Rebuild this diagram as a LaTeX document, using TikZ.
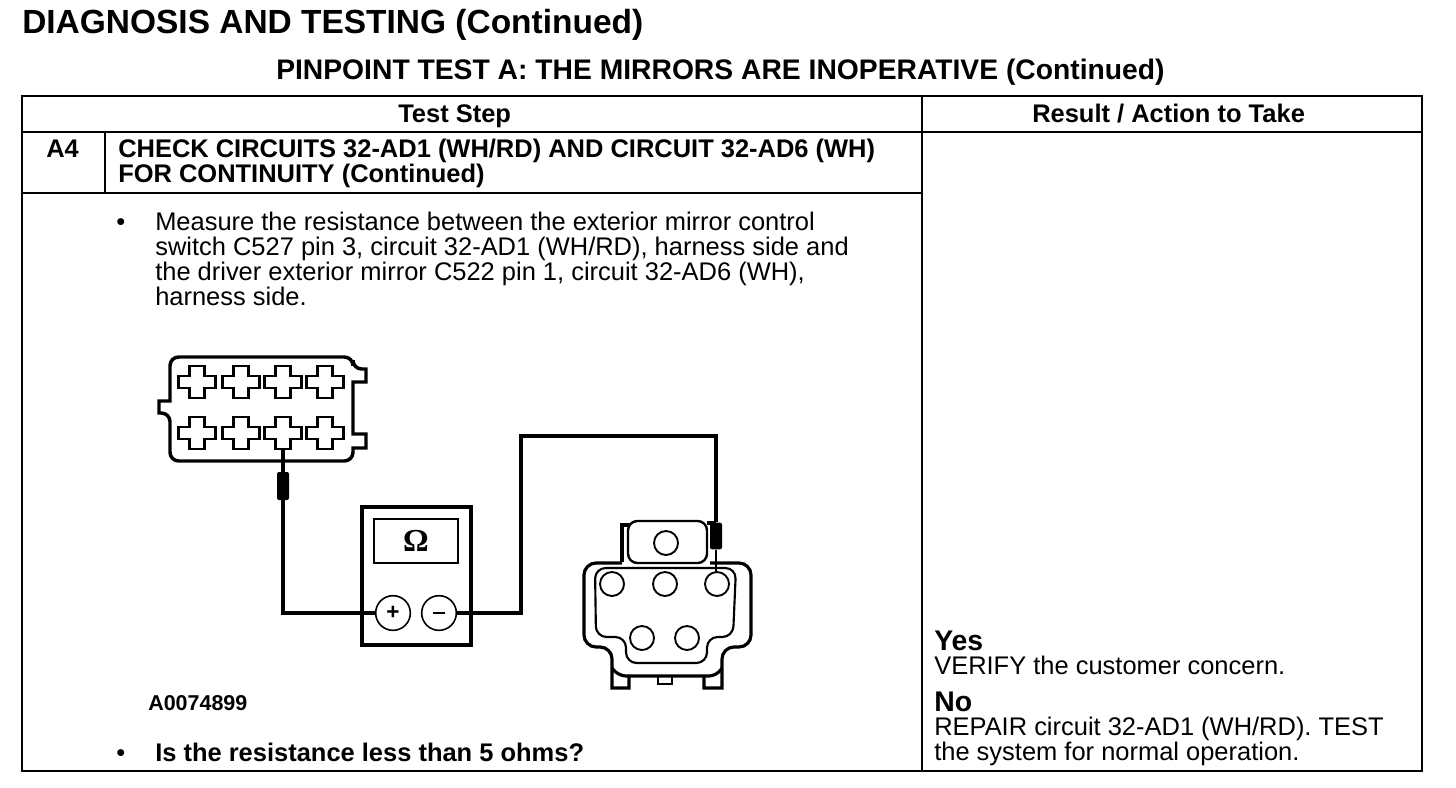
\documentclass[tikz,border=0pt]{standalone}
\usepackage{fontspec}
\setmainfont{Liberation Sans}
\newfontfamily\ohmfont{Liberation Serif}
\usetikzlibrary{positioning}
\usetikzlibrary{calc}
\tikzset{
  txt/.style={anchor=base west,inner sep=0pt,align=left},
  bodytxt/.style={txt,font=\fontsize{19.1}{18.75}\selectfont},
  headtxt/.style={txt,font=\fontsize{19.1}{18.75}\selectfont\bfseries},
  rule/.style={line width=1.5pt},
  pinhole/.style={circle,draw,line width=1.4pt,minimum size=18pt,inner sep=0pt},
  dial/.style={circle,draw,line width=1.2pt,fill=white,minimum size=26pt,inner sep=0pt},
  wire/.style={line width=2.6pt},
  probe/.style={rectangle,rounded corners=1.5pt,fill=black,inner sep=0pt,minimum width=9pt,minimum height=21pt},
  pics/crosshole/.style={code={
    \draw[line width=1.6pt] (-7.5,-16) -- (7.5,-16) -- (7.5,-6) -- (18.5,-6) -- (18.5,6) -- (7.5,6) -- (7.5,16) -- (-7.5,16) -- (-7.5,6) -- (-18.5,6) -- (-18.5,-6) -- (-7.5,-6) -- cycle;
  }}
}
\begin{document}
\begin{tikzpicture}[x=0.75pt,y=0.75pt,yscale=-1,xscale=1]
  \path[use as bounding box] (0,0) rectangle (1456,788); %same frame as the page
  % Table
  \draw[rule] (22,96) rectangle (1422,771);
  \draw[rule] (22,132) -- (1422,132);
  \draw[rule] (922,96) -- (922,771);
  \draw[rule] (105,132) -- (105,193);
  \draw[line width=2.2pt] (22,193) -- (922,193);

  % Text Node
  \draw (22,34) node (pagetitle) [txt,font=\fontsize{25.1}{26}\selectfont\bfseries] {DIAGNOSIS AND TESTING (Continued)};
  % Text Node
  \draw (276,80) node (testtitle) [txt,font=\fontsize{21.2}{22}\selectfont\bfseries] {PINPOINT TEST A: THE MIRRORS ARE INOPERATIVE (Continued)};
  % Text Node
  \draw (398,123) node (stephead) [headtxt] {Test Step};
  % Text Node
  \draw (1032,123) node (resulthead) [headtxt] {Result / Action to Take};
  % Text Node
  \draw (46,158) node (stepnum) [headtxt] {A4};
  % Text Node
  \draw (118,183) node (steptitle) [headtxt] {CHECK CIRCUITS 32-AD1 (WH/RD) AND CIRCUIT 32-AD6 (WH)\\FOR CONTINUITY (Continued)};
  % Text Node
  \draw (116,230) node (bulletone) [bodytxt] {•};
  % Text Node
  \draw (155,305) node (measuretxt) [bodytxt] {Measure the resistance between the exterior mirror control\\switch C527 pin 3, circuit 32-AD1 (WH/RD), harness side and\\the driver exterior mirror C522 pin 1, circuit 32-AD6 (WH),\\harness side.};
  % Text Node
  \draw (148,710) node (figid) [txt,font=\fontsize{16.1}{18}\selectfont\bfseries] {A0074899};
  % Text Node
  \draw (116,761) node (bullettwo) [bodytxt] {•};
  % Text Node
  \draw (155,761) node (questiontxt) [headtxt] {Is the resistance less than 5 ohms?};
  % Text Node
  \draw (934,650) node (yeshead) [txt,font=\fontsize{21.3}{22}\selectfont\bfseries] {Yes};
  % Text Node
  \draw (934,674) node (yestxt) [bodytxt] {VERIFY the customer concern.};
  % Text Node
  \draw (934,711) node (nohead) [txt,font=\fontsize{21.3}{22}\selectfont\bfseries] {No};
  % Text Node
  \draw (934,760) node (notxt) [bodytxt] {REPAIR circuit 32-AD1 (WH/RD). TEST\\the system for normal operation.};

  % Switch connector
  \draw[line width=2.6pt,rounded corners=6.5pt] (170,401) -- (170,357) -- (353,357) -- (353,369) [sharp corners] -- (366,369) -- (366,382) -- (353,382) -- (353,434) -- (366,434) -- (366,448) -- (353,448) [rounded corners=6.5pt] -- (353,461) -- (170,461) -- (170,413) [sharp corners] -- (159,413) -- (159,401) -- cycle;
  \foreach \cx/\nm in {197/a,241/b,283/c,325/d} {
    \path (\cx,382) pic {crosshole};
    \path (\cx,433) pic {crosshole};
    \coordinate (low\nm) at (\cx,449);
  }

  % Meter
  \draw[line width=3.6pt] (362,507) rectangle (471,645);
  \draw[line width=2pt] (374,519) rectangle (458,563);
  \draw (416,541) node (ohmsign) [font=\fontsize{24}{24}\selectfont\ohmfont\bfseries] {Ω};
  \node (plusdial) [dial,font=\fontsize{17}{17}\selectfont\bfseries] at (393,613) {+};
  \node (minusdial) [dial] at (439,613) {\rule{9pt}{1.8pt}};

  % Mirror connector
  \draw[line width=2.4pt] (622,562) -- (622,525) -- (630,525);
  \draw[line width=1.8pt,rounded corners=7pt] (628,563) -- (628,521) -- (707,521) -- (707,563) -- cycle;
  \draw[line width=2.4pt] (707,523) -- (716,523);
  \draw[line width=2.4pt,rounded corners=9pt] (622,563) -- (584,563) -- (584,647) -- (612,647) [sharp corners] -- (612,688) -- (629,688) -- (629,677);
  \draw[line width=2.4pt,rounded corners=9pt] (710,563) -- (751,563) -- (751,647) -- (722,647) [sharp corners] -- (722,688) -- (704,688) -- (704,677);
  \draw[line width=2.4pt,rounded corners=6pt] (612,668) -- (618,676) -- (717,676) -- (722,668);
  \draw[line width=2pt] (658,677) -- (658,684) -- (672,684) -- (672,677);
  \draw[line width=1.6pt,rounded corners=8pt] (595,568) -- (736,568) -- (733,637) -- (707,637) -- (707,663) -- (626,663) -- (626,637) -- (596,637) -- cycle;
  \node (mirrortop) [pinhole] at (666,543) {};
  \node (mirrorone) [pinhole] at (612,584) {};
  \node (mirrortwo) [pinhole] at (665,584) {};
  \node (mirrorthree) [pinhole] at (717,584) {};
  \node (mirrorfour) [pinhole] at (642,638) {};
  \node (mirrorfive) [pinhole] at (687,638) {};

  % Wires
  \node (probeleft) [probe] at (283,486) {};
  \node (proberight) [probe,minimum height=20pt] at (716,536) {};
  \coordinate (rise) at (521,436);
  \draw[wire] (lowc) |- (plusdial.west);
  \draw[wire] (minusdial.east) -| (rise) -| (proberight.north);
  \draw[line width=1.6pt] (proberight.south) -- (716,573);
\end{tikzpicture}
\end{document}
